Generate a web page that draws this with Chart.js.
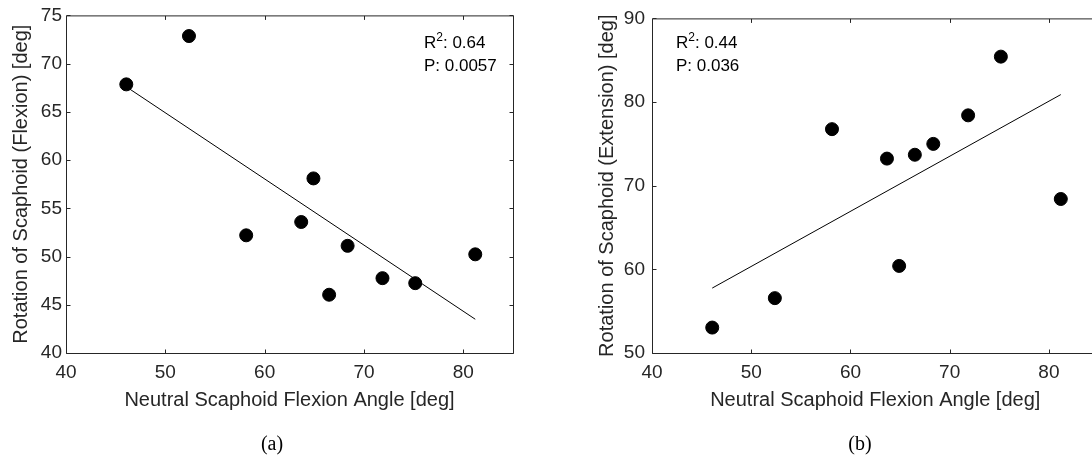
<!DOCTYPE html>
<html>
<head>
<meta charset="utf-8">
<script src="https://cdn.jsdelivr.net/npm/chart.js@4.4.1/dist/chart.umd.min.js"></script>
<style>
  html, body { margin: 0; padding: 0; background: #fff; overflow: hidden; }
  body { width: 1092px; height: 458px; position: relative; }
  canvas { position: absolute; top: 0; }
  #chartA { left: 0; }
  #chartB { left: 546px; }
  .caption {
    position: absolute;
    top: 432px;
    font-family: "Liberation Serif", "Times New Roman", serif;
    font-size: 20px;
    color: #000;
    transform: translateX(-50%);
  }
</style>
</head>
<body>
<canvas id="chartA" width="546" height="458"></canvas>
<canvas id="chartB" width="560" height="458"></canvas>
<div class="caption" style="left:272px">(a)</div>
<div class="caption" style="left:860px">(b)</div>

<script>
// neutral scaphoid flexion angle, shared by both panels
const neutralAngle = [46.07, 52.38, 58.14, 63.68, 64.91, 66.49, 68.35, 71.86, 75.16, 81.20];
// (a) rotation of scaphoid in flexion
const flexionRot = [67.85, 72.86, 52.2, 53.58, 58.1, 46.04, 51.11, 47.76, 47.24, 50.23];
// (b) rotation of scaphoid in extension
const extensionRot = [53.04, 56.56, 76.76, 73.24, 60.41, 73.7, 75.0, 78.41, 85.43, 68.41];

// regression line end points
const fitX = [46.07, 81.2];
const flexionFit = [67.6, 43.5];
const extensionFit = [57.76, 80.89];

// tick labels
const xTicks = [40, 50, 60, 70, 80];
const flexionTicks = [40, 45, 50, 55, 60, 65, 70, 75];
const extensionTicks = [50, 60, 70, 80, 90];

// stats text
const rSquared = ['0.64', '0.44'];
const pValues = ['0.0057', '0.036'];

const AXIS = '#262626';
const SANS = '"Liberation Sans", Arial, Helvetica, sans-serif';

// MATLAB style box with ticks pointing inwards
const matlabBox = {
  id: 'matlabBox',
  afterDraw(chart) {
    const { ctx, chartArea: a, scales: { x, y } } = chart;
    const len = 4;
    ctx.save();
    ctx.strokeStyle = AXIS;
    ctx.lineWidth = 1;
    ctx.beginPath();
    ctx.rect(a.left + 0.5, a.top + 0.5, a.right - a.left, a.bottom - a.top);
    x.ticks.forEach(t => {
      const px = Math.round(x.getPixelForValue(t.value)) + 0.5;
      ctx.moveTo(px, a.bottom + 0.5);
      ctx.lineTo(px, a.bottom + 0.5 - len);
      ctx.moveTo(px, a.top + 0.5);
      ctx.lineTo(px, a.top + 0.5 + len);
    });
    y.ticks.forEach(t => {
      const py = Math.round(y.getPixelForValue(t.value)) + 0.5;
      ctx.moveTo(a.left + 0.5, py);
      ctx.lineTo(a.left + 0.5 + len, py);
      ctx.moveTo(a.right + 0.5, py);
      ctx.lineTo(a.right + 0.5 - len, py);
    });
    ctx.stroke();
    ctx.restore();
  }
};

// R^2 / P text block
const statsLabel = {
  id: 'statsLabel',
  afterDatasetsDraw(chart, args, opts) {
    const { ctx } = chart;
    ctx.save();
    ctx.fillStyle = '#000';
    ctx.textAlign = 'left';
    ctx.textBaseline = 'alphabetic';
    let x = opts.x;
    ctx.font = '17px ' + SANS;
    ctx.fillText('R', x, opts.y);
    x += ctx.measureText('R').width;
    ctx.font = '12px ' + SANS;
    ctx.fillText('2', x, opts.y - 7);
    x += ctx.measureText('2').width;
    ctx.font = '17px ' + SANS;
    ctx.fillText(': ' + opts.r2, x, opts.y);
    ctx.fillText('P: ' + opts.p, opts.x, opts.y + 23);
    ctx.restore();
  }
};

function makeChart(id, yValues, fitValues, yTicks, yTitle, lay) {
  const points = neutralAngle.map((v, i) => ({ x: v, y: yValues[i] }));
  const fit = fitX.map((v, i) => ({ x: v, y: fitValues[i] }));

  return new Chart(document.getElementById(id), {
    type: 'scatter',
    data: {
      datasets: [
        {
          type: 'line',
          data: fit,
          borderColor: '#000',
          borderWidth: 1,
          pointRadius: 0,
          fill: false,
        },
        {
          data: points,
          backgroundColor: '#000',
          borderColor: '#000',
          borderWidth: 1,
          pointRadius: 6.5,
        },
      ],
    },
    options: {
      responsive: false,
      animation: false,
      layout: { padding: { left: 0, top: 12, right: lay.padRight, bottom: 0 } },
      plugins: {
        legend: { display: false },
        tooltip: { enabled: false },
        statsLabel: lay.stats,
      },
      scales: {
        x: {
          type: 'linear',
          min: 40,
          max: 85,
          afterBuildTicks: s => { s.ticks = xTicks.map(v => ({ value: v })); },
          afterFit: s => { s.height = 105; },
          grid: { display: false, drawTicks: false },
          border: { display: false },
          ticks: { color: AXIS, font: { family: SANS, size: 19 }, padding: 8 },
          title: {
            display: true,
            text: 'Neutral Scaphoid Flexion Angle [deg]',
            color: AXIS,
            font: { family: SANS, size: 20 },
            padding: { top: 0, bottom: 46 },
          },
        },
        y: {
          type: 'linear',
          min: yTicks[0],
          max: yTicks[yTicks.length - 1],
          afterBuildTicks: s => { s.ticks = yTicks.map(v => ({ value: v })); },
          afterFit: s => { s.width = lay.yWidth; },
          grid: { display: false, drawTicks: false },
          border: { display: false },
          ticks: { color: AXIS, font: { family: SANS, size: 19 }, padding: lay.tickPad },
          title: {
            display: true,
            text: yTitle,
            color: AXIS,
            font: { family: SANS, size: 20 },
            padding: { top: lay.titlePad, bottom: 0 },
          },
        },
      },
    },
    plugins: [matlabBox, statsLabel],
  });
}

makeChart('chartA', flexionRot, flexionFit, flexionTicks,
  'Rotation of Scaphoid (Flexion) [deg]',
  { padRight: 33, yWidth: 66, tickPad: 4, titlePad: 9,
    stats: { x: 424, y: 48, r2: rSquared[0], p: pValues[0] } });

makeChart('chartB', extensionRot, extensionFit, extensionTicks,
  'Rotation of Scaphoid (Extension) [deg]',
  { padRight: 7, yWidth: 106, tickPad: 7, titlePad: 49,
    stats: { x: 130, y: 48, r2: rSquared[1], p: pValues[1] } });
</script>
</body>
</html>
